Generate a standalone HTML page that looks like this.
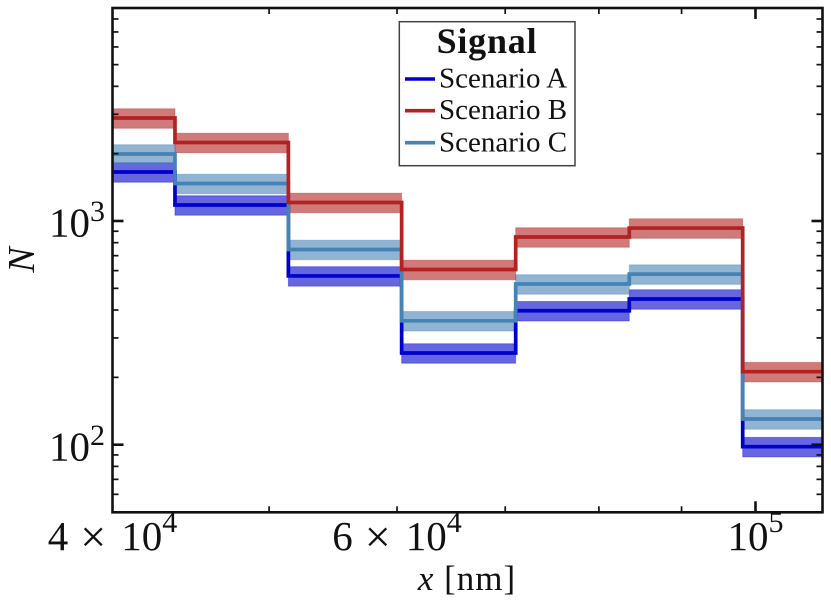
<!DOCTYPE html>
<html lang="en">
<head>
<meta charset="utf-8">
<title>Signal scenarios</title>
<style>
html,body{margin:0;padding:0;background:#fff;}
svg{display:block;font-family:"Liberation Serif","DejaVu Serif",serif;fill:#111;}
</style>
</head>
<body>
<svg id="chart" width="831" height="609" viewBox="0 0 831 609" xmlns="http://www.w3.org/2000/svg">
  <defs>
    <clipPath id="plot-clip"><rect x="112.5" y="8" width="710" height="504.3"></rect></clipPath>
  </defs>
  <rect width="831" height="609" fill="#fff"></rect>
  <g id="series" clip-path="url(#plot-clip)"></g>
  <g id="ticks"></g>
  <rect x="112.5" y="8" width="710" height="504.3" fill="none" stroke="#111" stroke-width="2.6"></rect>
  <g id="labels"></g>
  <text x="467" y="590" font-size="35" text-anchor="middle" letter-spacing="1"><tspan font-style="italic">x</tspan> [nm]</text>
  <text transform="translate(34,260) rotate(-90)" font-size="38" font-style="italic" text-anchor="middle">N</text>
  <g>
    <rect x="399.3" y="21.7" width="175.7" height="144" fill="#fff" stroke="#444" stroke-width="1.5"></rect>
    <text x="487" y="53" font-size="36" font-weight="bold" text-anchor="middle" letter-spacing="0.8">Signal</text>
    <line x1="405" x2="435" y1="79" y2="79" stroke="#0000cd" stroke-width="3.6"></line>
    <text x="439" y="87.7" font-size="29">Scenario A</text>
    <line x1="405" x2="435" y1="110.7" y2="110.7" stroke="#b22222" stroke-width="3.6"></line>
    <text x="439" y="119" font-size="29">Scenario B</text>
    <line x1="405" x2="435" y1="142.7" y2="142.7" stroke="#4682b4" stroke-width="3.6"></line>
    <text x="439" y="151.6" font-size="29">Scenario C</text>
  </g>
</svg>
<script>
const binEdges = [35000, 43724, 51393, 60396, 71055, 83540, 98192, 118000];
const scenarioA = [1656, 1179, 568, 257, 397, 448, 98];
const scenarioB = [2886, 2243, 1210, 607, 848, 930, 212];
const scenarioC = [1993, 1471, 746, 358, 523, 579, 130.3];
const scenarioAError = [0.1, 0.1, 0.1, 0.1, 0.1, 0.1, 0.1];
const scenarioBError = [0.1, 0.1, 0.1, 0.1, 0.1, 0.1, 0.1];
const scenarioCError = [0.1, 0.1, 0.1, 0.1, 0.1, 0.1, 0.1];
const xMajorTicks = [100000];
const xMinorTicks = [50000, 60000, 70000, 80000, 90000];
const yMajorTicks = [100, 1000];
const yMinorTicks = [60, 70, 80, 90, 200, 300, 400, 500, 600, 700, 800, 900, 2000, 3000, 4000, 5000, 6000, 7000, 8000];
const xLabelTicks = [40000, 60000, 100000];
const xTickCoefficients = ["4", "6", ""];
const xTickExponents = ["4", "4", "5"];
const yTickMantissas = ["10", "10"];
const yTickExponents = ["2", "3"];

const NS = "http://www.w3.org/2000/svg";
const seriesLayer = document.getElementById("series");
const tickLayer = document.getElementById("ticks");
const labelLayer = document.getElementById("labels");

const PLOT_LEFT = 112.5, PLOT_RIGHT = 822.5, PLOT_TOP = 8, PLOT_BOTTOM = 512.3;
function xScale(v) { return 112.5 + 1615.8 * Math.log10(v / 40000); }
function yScale(v) { return 221 - 223.7 * Math.log10(v / 1000); }

function make(tag, attrs, parent) {
  const el = document.createElementNS(NS, tag);
  for (const k in attrs) el.setAttribute(k, attrs[k]);
  parent.appendChild(el);
  return el;
}

function drawBands(values, errors, color, key) {
  values.forEach(function (v, i) {
    const x0 = xScale(binEdges[i]), x1 = xScale(binEdges[i + 1]);
    const yHi = yScale(v * (1 + errors[i])), yLo = yScale(v * (1 - errors[i]));
    const r = make("rect", { x: x0, y: yHi, width: x1 - x0, height: yLo - yHi, fill: color, "fill-opacity": 0.6, stroke: color, "stroke-opacity": 0.35, "stroke-width": 1 }, seriesLayer);
    
    
  });
}

function drawStep(values, color, key) {
  let d = "";
  values.forEach(function (v, i) {
    const x0 = xScale(binEdges[i]), x1 = xScale(binEdges[i + 1]), y = yScale(v);
    d += (i === 0 ? "M" : "L") + x0 + " " + y + "L" + x1 + " " + y;
  });
  const p = make("path", { d: d, fill: "none", stroke: color, "stroke-width": 3.7, "stroke-linejoin": "miter" }, seriesLayer);
  
  
}

drawBands(scenarioA, scenarioAError, "#0000cd", "scenario-a");
drawBands(scenarioC, scenarioCError, "#4682b4", "scenario-c");
drawBands(scenarioB, scenarioBError, "#b22222", "scenario-b");
drawStep(scenarioA, "#0000cd", "scenario-a");
drawStep(scenarioC, "#4682b4", "scenario-c");
drawStep(scenarioB, "#b22222", "scenario-b");

function xTick(v, len, w, key) {
  const x = xScale(v);
  const a = make("line", { x1: x, x2: x, y1: PLOT_BOTTOM, y2: PLOT_BOTTOM - len, stroke: "#111", "stroke-width": w }, tickLayer);
  
  
  const b = make("line", { x1: x, x2: x, y1: PLOT_TOP, y2: PLOT_TOP + len, stroke: "#111", "stroke-width": w }, tickLayer);
  
  
}
function yTick(v, len, w, key) {
  const y = yScale(v);
  const a = make("line", { x1: PLOT_LEFT, x2: PLOT_LEFT + len, y1: y, y2: y, stroke: "#111", "stroke-width": w }, tickLayer);
  
  
  const b = make("line", { x1: PLOT_RIGHT, x2: PLOT_RIGHT - len, y1: y, y2: y, stroke: "#111", "stroke-width": w }, tickLayer);
  
  
}
xMajorTicks.forEach(function (v) { xTick(v, 11, 2.6, v); });
xMinorTicks.forEach(function (v) { xTick(v, 6, 1.7, v); });
yMajorTicks.forEach(function (v) { yTick(v, 11, 2.6, v); });
yMinorTicks.forEach(function (v) { yTick(v, 6, 1.7, v); });

xLabelTicks.forEach(function (v, i) {
  const t = make("text", { x: xScale(v), y: 550, "font-size": 41, "text-anchor": "middle" }, labelLayer);
  
  
  if (xTickCoefficients[i]) {
    const c = make("tspan", {}, t);
    c.textContent = xTickCoefficients[i];
    const times = make("tspan", { "font-size": 46, dx: 12, dy: 2 }, t);
    times.textContent = "×";
    const ten = make("tspan", { dx: 15, dy: -2 }, t);
    ten.textContent = "10";
  } else {
    const ten = make("tspan", {}, t);
    ten.textContent = "10";
  }
  const e = make("tspan", { "font-size": 30, dy: -18 }, t);
  e.textContent = xTickExponents[i];
});
yMajorTicks.forEach(function (v, i) {
  const t = make("text", { x: 105, y: yScale(v) + 15.7, "font-size": 41, "text-anchor": "end" }, labelLayer);
  
  
  const m = make("tspan", {}, t);
  m.textContent = yTickMantissas[i];
  const e = make("tspan", { "font-size": 30, dy: -15.5 }, t);
  e.textContent = yTickExponents[i];
});
</script>
</body>
</html>
